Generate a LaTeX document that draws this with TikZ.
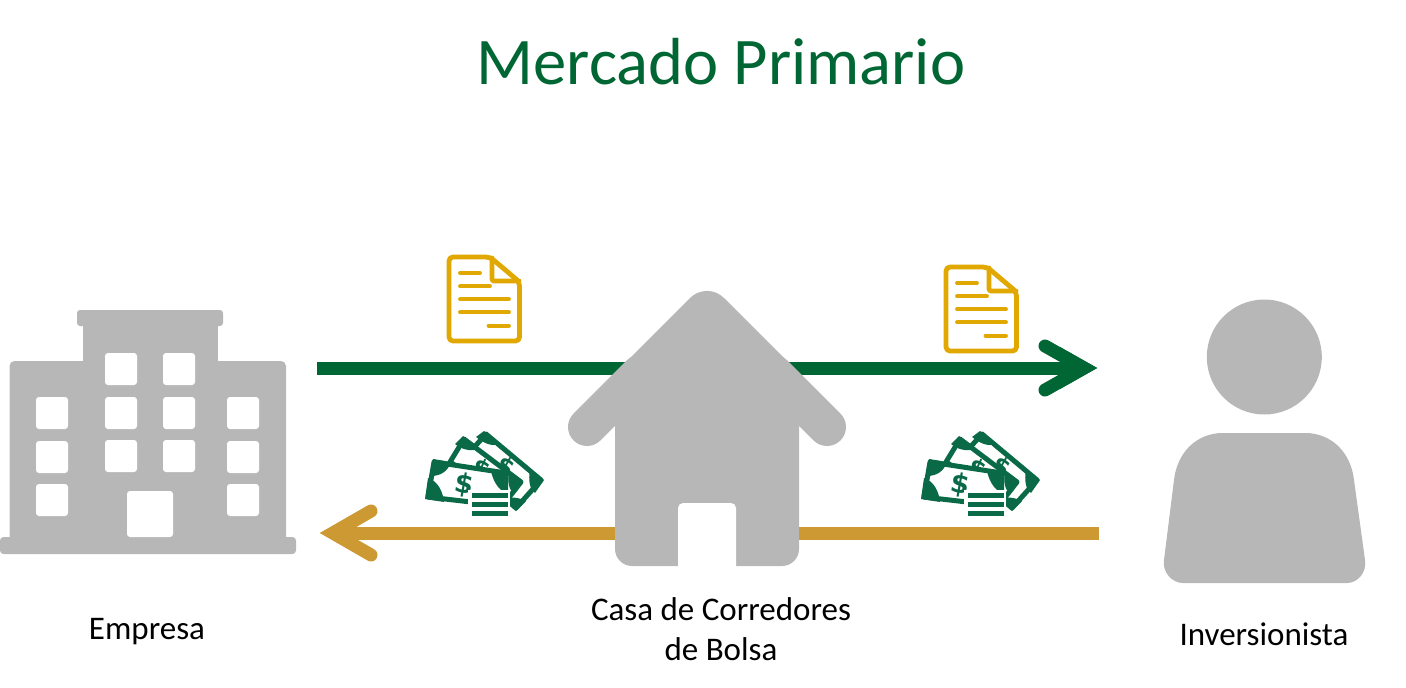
\documentclass[tikz,border=0pt]{standalone}
\usepackage{fontspec}
\setmainfont{Carlito}
\newfontfamily\dollarfont{DejaVu Sans}
\definecolor{flowgreen}{HTML}{006633}
\definecolor{floworange}{HTML}{CC9933}
\definecolor{icongray}{HTML}{B7B7B7}
\definecolor{docgold}{HTML}{E0A800}
\definecolor{billgreen}{HTML}{0A6A48}
\tikzset{
  x=1pt,y=-1pt,
  titletext/.style={text=flowgreen,font=\fontsize{66.6}{70}\selectfont,inner sep=0pt},
  labeltext/.style={text=black,font=\fontsize{33}{40}\selectfont,inner sep=0pt,align=center},
  flowline/.style={line width=13pt},
  flowhead/.style={line width=13pt,line cap=round,line join=miter,miter limit=10},
  graybody/.style={fill=icongray,draw=none},
  win/.style={fill=white,draw=none,rounded corners=3pt},
  docstroke/.style={draw=docgold,line width=4.8pt,line join=round,line cap=round},
  docline/.style={draw=docgold,line width=3.8pt,line cap=round},
  billstroke/.style={draw=billgreen,fill=white,line width=5pt,line join=round},
  billblob/.style={fill=billgreen,draw=none},
  dollar/.style={text=billgreen,inner sep=0pt,font=\fontsize{24}{24}\dollarfont\bfseries},
  bigdollar/.style={text=billgreen,inner sep=0pt,font=\fontsize{27}{27}\dollarfont\bfseries},
  pics/docicon/.style={code={
    \path[docstroke,fill=white,rounded corners=4pt] (449,257) -- (490,257) -- (519.5,282) -- (519.5,341) -- (449,341) -- cycle;
    \path[docstroke,rounded corners=2pt] (492,258) -- (492,281) -- (519,281);
    \draw[docline] (460,273) -- (480,273);
    \draw[docline] (460,286.3) -- (490,286.3);
    \draw[docline] (460,299.3) -- (509,299.3);
    \draw[docline] (460,312.3) -- (509,312.3);
    \draw[docline] (488.5,325.7) -- (509,325.7);
  }},
  pics/moneyicon/.style={code={
    % back bill
    \path[billstroke] (486,434) -- (541,480) -- (516,508) -- (461,462) -- cycle;
    \fill[billblob] (484,431) -- (500,444) .. controls (491,447) and (484,443) .. (476,437) -- cycle;
    \fill[billblob] (544,480) -- (530,469) .. controls (528,481) and (530,490) .. (535,493) -- cycle;
    \fill[billblob] (516,511) -- (503,499) .. controls (511,496) and (520,498) .. (526,501) -- cycle;
    \node[rotate=-30,dollar] (m3) at (505,467) {\$};
    % middle bill
    \path[billstroke] (464,439) -- (521,482) -- (507,500) -- (450,462) -- cycle;
    \fill[billblob] (463,436) -- (479,449) .. controls (470,452) and (461,449) .. (455,444) -- cycle;
    \fill[billblob] (523,482) -- (509,472) .. controls (507,481) and (509,490) .. (514,494) -- cycle;
    \node[rotate=-25,dollar] (m2) at (481,469) {\$};
    % front bill
    \path[billstroke] (434,462) -- (506,473) -- (505,506) -- (428,497) -- cycle;
    \fill[billblob] (433,459) -- (451,462) .. controls (448,471) and (441,476) .. (431,476) -- cycle;
    \fill[billblob] (425,499) -- (428,478) .. controls (438,481) and (443,492) .. (444,502) -- cycle;
    \fill[billblob] (507,472) -- (491,470) .. controls (492,479) and (498,490) .. (506,493) -- cycle;
    \node[rotate=-10,bigdollar] (m1) at (464,485) {\$};
    % stack
    \fill[white] (468,490) rectangle (510,518);
    \fill[billgreen] (472,492.7) rectangle (508,497.5);
    \fill[billgreen] (472,501.8) rectangle (508,506.7);
    \fill[billgreen] (472,511) rectangle (508,516);
  }},
}
\begin{document}
\begin{tikzpicture}
\useasboundingbox (0,0) rectangle (1406,688);
% connector end points
\coordinate (greenstart) at (317,368);
\coordinate (greenend) at (1080,368);
\coordinate (greenv) at (1084,368);
\coordinate (greentip) at (1097,368);
\coordinate (greenup) at (1045,346);
\coordinate (greendown) at (1045,390);
\coordinate (orangestart) at (1099,533);
\coordinate (orangeend) at (337,533);
\coordinate (orangev) at (333,533);
\coordinate (orangetip) at (320,533);
\coordinate (orangeup) at (371,511);
\coordinate (orangedown) at (371,555);
% arrows
\draw[flowline,draw=flowgreen] (greenstart) -- (greenend);
\draw[flowhead,draw=flowgreen] (greenup) -- (greenv) -- (greendown);
\fill[flowgreen] (greentip) -- (1060,347) -- (1060,389) -- cycle;
\draw[flowline,draw=floworange] (orangestart) -- (orangeend);
\draw[flowhead,draw=floworange] (orangeup) -- (orangev) -- (orangedown);
\fill[floworange] (orangetip) -- (357,512) -- (357,554) -- cycle;
% building
\fill[graybody,rounded corners=3pt] (77,310) rectangle (223,326);
\fill[graybody] (83,320) rectangle (218,365);
\fill[graybody,rounded corners=5pt] (9.5,361) rectangle (286,545);
\fill[graybody,rounded corners=3.5pt] (0,537) rectangle (296,554);
\foreach \wx/\wy in {105/353,163/353,36/397,105/397,163/397,227/397,36/441,105/440,163/440,227/441,36/484,227/484}
  \fill[win] (\wx,\wy) rectangle ++(32,32);
\fill[win] (127,491) rectangle (173,537);
% house
\draw[line width=38pt,line cap=round,draw=icongray] (587,427) -- (640,374);
\draw[line width=38pt,line cap=round,draw=icongray] (827,427) -- (774,374);
\fill[graybody] (574,414) [rounded corners=24pt] -- (707,281) [sharp corners] -- (840,414) -- (799,425)
  [rounded corners=17pt] -- (799,566) -- (615,566) [sharp corners] -- (615,425) -- cycle;
\fill[white,rounded corners=5pt] (678,575) -- (678,503) -- (736,503) -- (736,575) -- cycle;
\fill[white] (670,566.6) rectangle (745,575);
% person
\fill[graybody] (1264.3,357) circle (57.5);
\fill[graybody] (1223,433) -- (1305,433) .. controls (1332,433) and (1351,453) .. (1354,480) -- (1365,560)
  .. controls (1367,572) and (1358,583) .. (1347,583) -- (1183,583)
  .. controls (1172,583) and (1162,572) .. (1164,560) -- (1174,480)
  .. controls (1177,453) and (1196,433) .. (1223,433) -- cycle;
% icons
\pic (doca) at (0,0) {docicon};
\pic (docb) at (497,10) {docicon};
\pic (moneya) at (0,0) {moneyicon};
\pic (moneyb) at (496,0) {moneyicon};
% text
\node[titletext] (title) at (721,62) {Mercado Primario};
\node[labeltext] (empresa) at (147,632) {Empresa};
\node[labeltext] (casa) at (721,629) {Casa de Corredores\\de Bolsa};
\node[labeltext] (inversionista) at (1264,634) {Inversionista};
\end{tikzpicture}
\end{document}
